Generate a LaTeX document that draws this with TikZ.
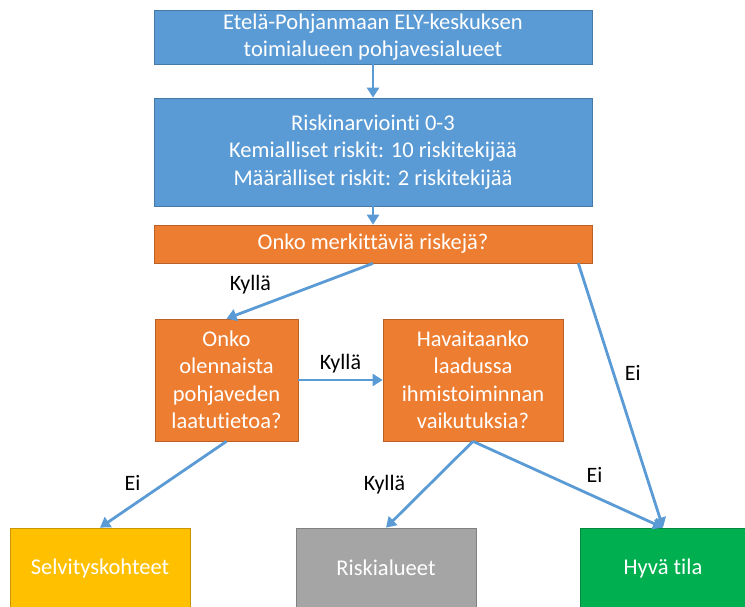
\documentclass[tikz,border=0pt]{standalone}
\usepackage{fontspec}
\setmainfont{Carlito}[Ligatures=NoCommon]
\usetikzlibrary{arrows.meta,calc}
\definecolor{boxblue}{HTML}{5B9BD5}
\definecolor{boxorange}{HTML}{ED7D31}
\definecolor{boxyellow}{HTML}{FFC000}
\definecolor{boxgray}{HTML}{A5A5A5}
\definecolor{boxgreen}{HTML}{00B050}
\tikzset{
	box/.style = {draw=#1!78!black, line width=0.7pt, fill=#1, text=white, align=center, inner sep=0pt, font=\fontsize{22.5}{27.5}\selectfont},
	link/.style = {draw=boxblue, line width=2.8pt, -{Triangle[length=10pt,width=12pt]}},
	answer/.style = {text=black, inner sep=4pt, font=\fontsize{22}{24}\selectfont}
}
\begin{document}
\begin{tikzpicture}[x=1pt,y=-1pt]
		\useasboundingbox (0,0) rectangle (745,607);
		%
		\node[box=boxblue, minimum width=438pt, minimum height=54pt] (alueet) at (373,37) {Etelä-Pohjanmaan ELY-keskuksen\\toimialueen pohjavesialueet};
		\node[box=boxblue, minimum width=438pt, minimum height=108pt] (arvio) at (373,152) {Riskinarviointi 0-3\\Kemialliset riskit: 10 riskitekijää\\Määrälliset riskit: 2 riskitekijää};
		\node[box=boxorange, minimum width=438pt, minimum height=38pt] (riskit) at (373,244) {Onko merkittäviä riskejä?};
		%
		\node[box=boxorange, minimum width=143pt, minimum height=122pt] (tieto) at (226.5,380) {Onko\\olennaista\\pohjaveden\\laatutietoa?};
		\node[box=boxorange, minimum width=180pt, minimum height=122pt] (vaikutus) at (473,380) {Havaitaanko\\laadussa\\ihmistoiminnan\\vaikutuksia?};
		%
		\node[box=boxyellow, minimum width=180pt, minimum height=80pt] (selvitys) at (100,568) {Selvityskohteet};
		\node[box=boxgray, minimum width=180pt, minimum height=80pt] (riskialue) at (386,568) {Riskialueet};
		\node[box=boxgreen, minimum width=166pt, minimum height=80pt] (hyva) at (663,568) {Hyvä tila};
		%
		\draw[link] (alueet.south)--(arvio.north);
		\draw[link] (arvio.south)--(riskit.north);
		\draw[link] (riskit.south)--(tieto.north) node[pos=0.66, anchor=south east, answer]{Kyllä};
		\draw[link] ($(riskit.south east)+(-14,0)$)--(hyva.north) node[pos=0.415, anchor=west, answer, xshift=6pt]{Ei};
		%
		\draw[link] (tieto.east)--(vaikutus.west) node[midway, anchor=south, answer, yshift=2pt]{Kyllä};
		\draw[link] (tieto.south)--(selvitys.north) node[pos=0.48, anchor=east, answer, xshift=-20pt]{Ei};
		\draw[link] (vaikutus.south)--(riskialue.north) node[pos=0.5, anchor=east, answer, xshift=-19pt]{Kyllä};
		\draw[link] (vaikutus.south)--(hyva.north) node[pos=0.64, anchor=south, answer, yshift=9pt]{Ei};
		%
	\end{tikzpicture}
\end{document}
